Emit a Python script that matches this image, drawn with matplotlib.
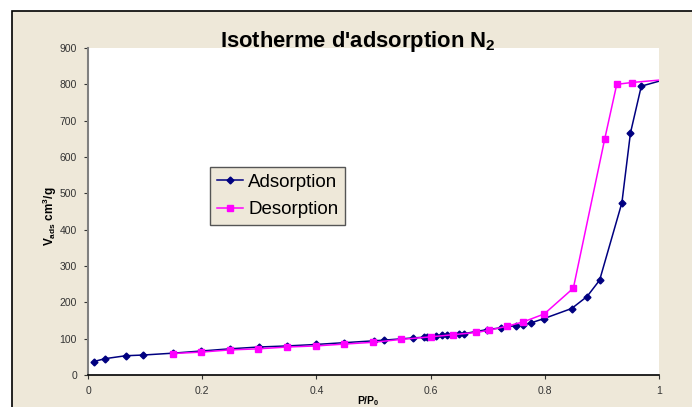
import numpy as np
import matplotlib.pyplot as plt
from matplotlib.patches import Rectangle

plt.rcParams['font.family'] = ['Liberation Sans', 'DejaVu Sans']
plt.rcParams['mathtext.fontset'] = 'custom'
plt.rcParams['mathtext.rm'] = 'Liberation Sans'
plt.rcParams['mathtext.bf'] = 'Liberation Sans:bold'

# adsorption branch (P/P0, V ads cm3/g)
p_ads = [0.01, 0.03, 0.066, 0.097, 0.148, 0.198, 0.248, 0.299, 0.349, 0.399, 0.449,
         0.5, 0.519, 0.569, 0.589, 0.594, 0.61, 0.62, 0.629, 0.65, 0.659, 0.699, 0.724,
         0.749, 0.762, 0.775, 0.798, 0.847, 0.874, 0.896, 0.935, 0.95, 0.969, 1.01]
v_ads = [37, 45, 53, 55, 60, 66, 72, 77, 80, 84, 89,
         94, 96, 102, 104, 105, 107, 109, 109, 114, 114, 125, 130,
         136, 138, 143, 155, 183, 216, 261, 474, 666, 795, 813]

# desorption branch
p_des = [1.01, 0.952, 0.926, 0.905, 0.85, 0.799, 0.762, 0.733, 0.702, 0.68, 0.64,
         0.6, 0.549, 0.499, 0.448, 0.399, 0.349, 0.298, 0.248, 0.198, 0.148]
v_des = [813, 805, 800, 650, 239, 168, 146, 134, 123, 117, 111,
         105, 98, 90, 85, 80, 77, 72, 69, 63, 59]

beige = '#eee8d9'

fig = plt.figure(figsize=(6.92, 4.07), dpi=100)
fig.patch.set_facecolor('white')
# chart area with black border on top/left
fig.patches.append(Rectangle((12/692, -0.05), 1.1, 1.05 - 11/407, transform=fig.transFigure,
                             facecolor=beige, edgecolor='black', linewidth=1.2, zorder=-5))

ax = fig.add_axes([88/692, 1 - 375/407, (659 - 88)/692, (375 - 48)/407])
ax.set_zorder(1)
ax.set_facecolor('white')

ax.plot(p_ads, v_ads, color='#000080', lw=1.1, marker='D', ms=3.5, label='Adsorption')
ax.plot(p_des, v_des, color='#ff00ff', lw=1.1, marker='s', ms=4.5, label='Desorption')

ax.set_xlim(0, 1)
ax.set_ylim(0, 900)
ax.set_xticks([0, 0.2, 0.4, 0.6, 0.8, 1])
ax.set_xticklabels(['0', '0.2', '0.4', '0.6', '0.8', '1'])
ax.set_yticks(range(0, 901, 100))
ax.tick_params(labelsize=7.5, colors='#333333', length=3, width=0.8, pad=5)

for s in ['top', 'right']:
    ax.spines[s].set_visible(False)
ax.spines['left'].set_color('#808080')
ax.spines['left'].set_linewidth(1.5)
ax.spines['bottom'].set_color('black')
ax.spines['bottom'].set_linewidth(1.2)

fig.text(368/692, 1 - 401/407, r'P/P$_\mathbf{0}$', fontsize=7.5, fontweight='bold',
         ha='center', va='center')
fig.text(50/692, 1 - 216/407, r'V$_\mathbf{ads}$ cm$^\mathbf{3}$/g', fontsize=8.5,
         fontweight='bold', rotation=90, ha='center', va='center')

fig.text(358/692, 1 - 41/407, r"Isotherme d'adsorption N$_\mathbf{2}$", fontsize=15.8,
         fontweight='bold', ha='center', va='center')

leg = ax.legend(loc='upper left', bbox_to_anchor=((210 - 88)/571, (375 - 167)/327),
                fontsize=13.5, frameon=True, fancybox=False, borderpad=0.35,
                handlelength=1.4, handletextpad=0.3, labelspacing=0.55, borderaxespad=0)
leg.get_frame().set_facecolor(beige)
leg.get_frame().set_edgecolor('#555555')
leg.get_frame().set_alpha(1)

fig.savefig('out.png', dpi=100)
